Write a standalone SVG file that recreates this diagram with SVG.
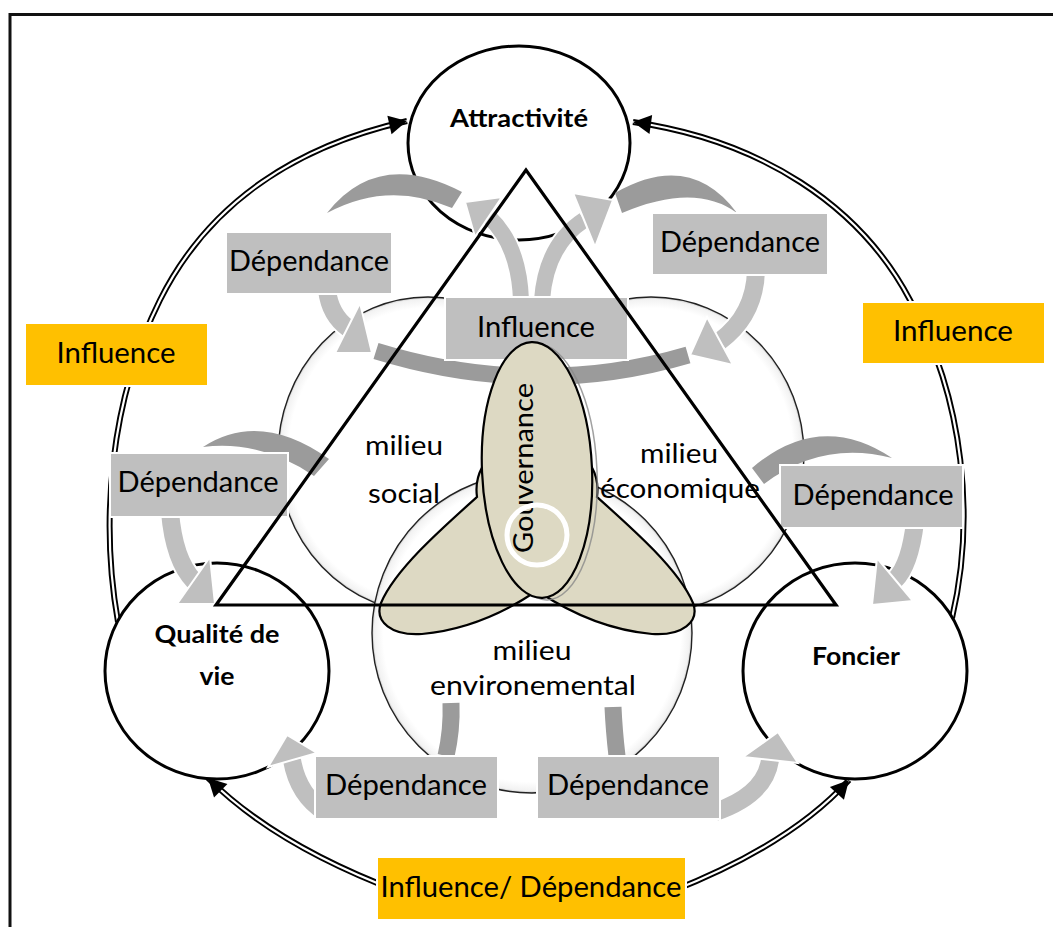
<svg xmlns="http://www.w3.org/2000/svg" width="1053" height="927" viewBox="0 0 1053 927">
<style>
.lbl{font-family:Lato,"Liberation Sans",sans-serif;font-size:28px;fill:#000;text-anchor:middle}
.nlbl{font-family:Lato,"Liberation Sans",sans-serif;font-size:25px;font-weight:bold;fill:#000;text-anchor:middle}
.mlbl{font-family:Lato,"Liberation Sans",sans-serif;font-size:27px;fill:#000;text-anchor:middle}
.node{fill:#fff;stroke:#000;stroke-width:3}
.venn{fill:url(#vg);stroke:#222;stroke-width:1.4}
.gbox{fill:#BFBFBF;stroke:#fff;stroke-width:2}
.ybox{fill:#FFC000;stroke:#fff;stroke-width:2}
.dark{fill:#9B9B9B}
.darkline{fill:none;stroke:#9B9B9B;stroke-width:17}
.shaft{fill:none;stroke:#BFBFBF;stroke-width:18}
.halo{fill:none;stroke:#fff;stroke-width:22}
.ushaft{fill:none;stroke:#BFBFBF;stroke-width:16}
.uhalo{fill:none;stroke:#fff;stroke-width:20}
.head{fill:#BFBFBF;stroke:#fff;stroke-width:2}
.dblo{fill:none;stroke:#000;stroke-width:6}
.dbli{fill:none;stroke:#fff;stroke-width:2.2;marker-end:url(#ah)}
.petal{fill:#DDD9C3;stroke:#000;stroke-width:2.2}
</style>
<defs>
<radialGradient id="vg">
<stop offset="0" stop-color="#fff"/>
<stop offset="0.93" stop-color="#fff"/>
<stop offset="0.985" stop-color="#f2f2f2"/>
<stop offset="1" stop-color="#c8c8c8"/>
</radialGradient>
<marker id="ah" markerUnits="userSpaceOnUse" markerWidth="22" markerHeight="22" viewBox="-20 -11 22 22" refX="0" refY="0" orient="auto">
<path d="M0,0 L-18,-9.5 L-18,9.5 Z" fill="#000"/>
</marker>
</defs>

<rect x="0" y="0" width="1053" height="927" fill="#fff"/>
<path id="frame" d="M10,927 V14.5 H1053" fill="none" stroke="#111" stroke-width="3"/>

<g id="connectors">
<path class="dblo" d="M118,622 C100,520 110,400 160,300 C210,200 300,145 407,121"/>
<path class="dbli" d="M118,622 C100,520 110,400 160,300 C210,200 300,145 407,121"/>
<path class="dblo" d="M952,618 C975,520 965,400 910,300 C860,205 760,140 633,122"/>
<path class="dbli" d="M952,618 C975,520 965,400 910,300 C860,205 760,140 633,122"/>
<path class="dblo" d="M400,892 Q275,845 208,778"/>
<path class="dbli" d="M400,892 Q275,845 208,778"/>
<path class="dblo" d="M670,892 Q790,845 849,780"/>
<path class="dbli" d="M670,892 Q790,845 849,780"/>
</g>

<g id="milieux">
<ellipse class="venn" cx="428" cy="455" rx="150" ry="158"/>
<ellipse class="venn" cx="651" cy="455" rx="153" ry="158"/>
<ellipse class="venn" cx="532" cy="633" rx="160" ry="160"/>
</g>

<g id="node-attractivite">
<ellipse class="node" cx="519" cy="143" rx="111" ry="97"/>
<text class="nlbl" x="519" y="127" textLength="138" lengthAdjust="spacingAndGlyphs">Attractivité</text>
</g>
<g id="node-qualite">
<ellipse class="node" cx="217" cy="671" rx="112" ry="108"/>
<text class="nlbl" x="217" y="643" textLength="125" lengthAdjust="spacingAndGlyphs">Qualité de</text>
<text class="nlbl" x="217" y="685" textLength="35" lengthAdjust="spacingAndGlyphs">vie</text>
</g>
<g id="node-foncier">
<ellipse class="node" cx="855" cy="671" rx="112" ry="108"/>
<text class="nlbl" x="856" y="665" textLength="88" lengthAdjust="spacingAndGlyphs">Foncier</text>
</g>

<g id="dark-arcs">
<path class="dark" d="M327,213 Q378,148 462,192 L452,208 Q388,180 327,213 Z"/>
<path class="dark" d="M615,193 Q690,150 737,213 Q695,182 622,213 Z"/>
<path class="dark" d="M203,447 Q260,410 329,459 L314,476 Q262,440 203,447 Z"/>
<path class="dark" d="M752,468 Q820,410 892,458 Q822,440 764,484 Z"/>
<path class="darkline" d="M376,351 Q535,400 688,355"/>
<path class="darkline" d="M451,703 Q452,730 446,756"/>
<path class="darkline" d="M613,707 Q614,730 617,756"/>
</g>

<g id="light-arrows">
<path class="halo" d="M327,290 Q330,315 348,328"/>
<path class="shaft" d="M327,290 Q330,315 348,328"/>
<polygon class="head" points="360,303 372,353 335,353"/>

<path class="halo" d="M756,270 Q755,315 720,341"/>
<path class="shaft" d="M756,270 Q755,315 720,341"/>
<polygon class="head" points="707,317 733,365 690,355"/>

<path class="uhalo" d="M521,300 Q519,245 489,217"/>
<path class="ushaft" d="M521,300 Q519,245 489,217"/>
<polygon class="head" points="465,202 502,197 475,237"/>

<path class="uhalo" d="M542,300 Q546,245 584,220"/>
<path class="ushaft" d="M542,300 Q546,245 584,220"/>
<polygon class="head" points="613,200 573,193 595,247"/>

<path class="halo" d="M170,512 Q174,560 194,581"/>
<path class="shaft" d="M170,512 Q174,560 194,581"/>
<polygon class="head" points="215,604 210,557 177,604"/>

<path class="halo" d="M915,522 Q910,565 895,580"/>
<path class="shaft" d="M915,522 Q910,565 895,580"/>
<polygon class="head" points="872,605 877,558 913,601"/>

<path class="halo" d="M325,812 Q298,795 292,760"/>
<path class="shaft" d="M325,812 Q298,795 292,760"/>
<polygon class="head" points="287,735 268,767 317,753"/>

<path class="halo" d="M715,812 Q765,795 770,760"/>
<path class="shaft" d="M715,812 Q765,795 770,760"/>
<polygon class="head" points="778,732 743,757 798,763"/>
</g>

<g id="label-dep-tl">
<rect class="gbox" x="226" y="232" width="166" height="62"/>
<text class="lbl" x="309" y="271" textLength="160" lengthAdjust="spacingAndGlyphs">Dépendance</text>
</g>
<g id="label-dep-tr">
<rect class="gbox" x="652" y="213" width="176" height="62"/>
<text class="lbl" x="740" y="252" textLength="160" lengthAdjust="spacingAndGlyphs">Dépendance</text>
</g>
<g id="label-influence-top">
<rect class="gbox" x="445" y="297" width="183" height="63"/>
<text class="lbl" x="536" y="337" textLength="118" lengthAdjust="spacingAndGlyphs">Influence</text>
</g>
<g id="label-dep-ml">
<rect class="gbox" x="110" y="453" width="178" height="64"/>
<text class="lbl" x="198" y="492" textLength="161" lengthAdjust="spacingAndGlyphs">Dépendance</text>
</g>
<g id="label-dep-mr">
<rect class="gbox" x="780" y="465" width="183" height="63"/>
<text class="lbl" x="873" y="505" textLength="161" lengthAdjust="spacingAndGlyphs">Dépendance</text>
</g>
<g id="label-dep-bl">
<rect class="gbox" x="315" y="756" width="183" height="63"/>
<text class="lbl" x="406" y="795" textLength="162" lengthAdjust="spacingAndGlyphs">Dépendance</text>
</g>
<g id="label-dep-br">
<rect class="gbox" x="537" y="756" width="183" height="63"/>
<text class="lbl" x="628" y="795" textLength="162" lengthAdjust="spacingAndGlyphs">Dépendance</text>
</g>
<g id="label-influence-left">
<rect class="ybox" x="25" y="323" width="183" height="63"/>
<text class="lbl" x="116" y="363" textLength="119" lengthAdjust="spacingAndGlyphs">Influence</text>
</g>
<g id="label-influence-right">
<rect class="ybox" x="862" y="302" width="183" height="62"/>
<text class="lbl" x="953" y="341" textLength="120" lengthAdjust="spacingAndGlyphs">Influence</text>
</g>
<g id="label-influence-bottom">
<rect class="ybox" x="377" y="857" width="309" height="63"/>
<text class="lbl" x="531" y="897" textLength="301" lengthAdjust="spacingAndGlyphs">Influence/ Dépendance</text>
</g>

<g id="gouvernance">
<path class="petal" d="M505,448 C485,455 474,475 477,497 C440,530 395,570 381,603 C374,622 392,636 422,634 C465,630 505,612 535,592 L540,470 Z"/>
<path class="petal" d="M569,448 C589,455 600,475 597,497 C634,530 679,570 693,603 C700,622 682,636 652,634 C609,630 569,612 539,592 L534,470 Z"/>
<ellipse cx="542" cy="472" rx="55" ry="128" transform="rotate(-2.5 542 472)" fill="none" stroke="#8a8a8a" stroke-width="1.5" opacity="0.8"/>
<ellipse class="petal" cx="537" cy="470" rx="55" ry="128" transform="rotate(-2.5 537 470)"/>
<text class="mlbl" transform="translate(533,468) rotate(-90)" textLength="170" lengthAdjust="spacingAndGlyphs">Gouvernance</text>
<circle cx="537" cy="535" r="30" fill="none" stroke="#fff" stroke-width="5"/>
</g>

<g id="triangle">
<polygon points="526,170 216,605 836,605" fill="none" stroke="#000" stroke-width="3.2"/>
</g>

<g id="milieu-social">
<text class="mlbl" x="404" y="455" textLength="78" lengthAdjust="spacingAndGlyphs">milieu</text>
<text class="mlbl" x="404" y="503" textLength="72" lengthAdjust="spacingAndGlyphs">social</text>
</g>
<g id="milieu-economique">
<text class="mlbl" x="679" y="463" textLength="78" lengthAdjust="spacingAndGlyphs">milieu</text>
<text class="mlbl" x="680" y="498" textLength="160" lengthAdjust="spacingAndGlyphs">économique</text>
</g>
<g id="milieu-environemental">
<text class="mlbl" x="532" y="660" textLength="79" lengthAdjust="spacingAndGlyphs">milieu</text>
<text class="mlbl" x="533" y="695" textLength="206" lengthAdjust="spacingAndGlyphs">environemental</text>
</g>
</svg>
